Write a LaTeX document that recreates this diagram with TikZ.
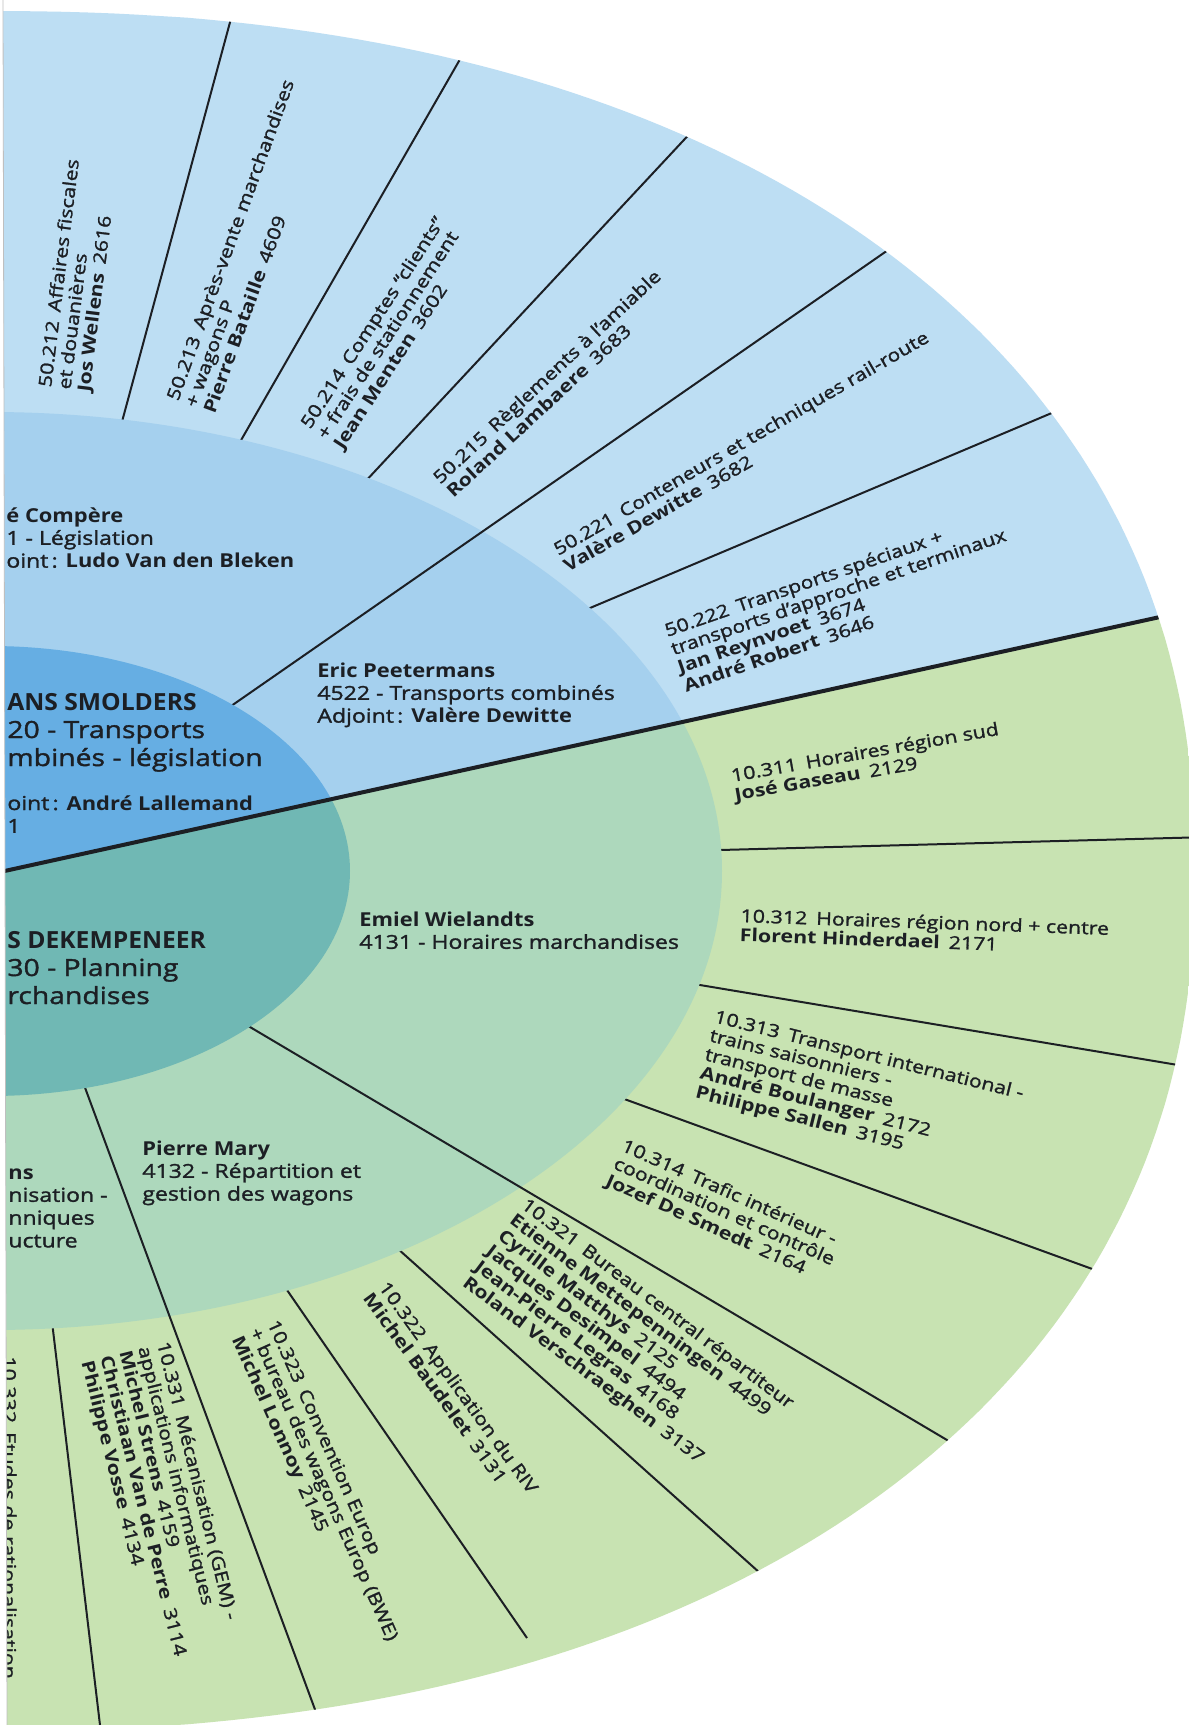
\documentclass[tikz,border=0pt]{standalone}
\usepackage{fontspec}
\setmainfont{Open Sans}[UprightFeatures={FakeStretch=1.2, FakeBold=1.5}, BoldFeatures={FakeStretch=1.2}]
\usetikzlibrary{calc}
\definecolor{oblue}{HTML}{BDDEF3}
\definecolor{mblue}{HTML}{A5D0EE}
\definecolor{iblue}{HTML}{66AEE3}
\definecolor{ogreen}{HTML}{C8E3B2}
\definecolor{mgreen}{HTML}{ADD8BC}
\definecolor{igreen}{HTML}{70B8B4}
\definecolor{ink}{HTML}{1C1F24}
\newcommand{\txtstack}[1]{\begin{tabular}[t]{@{}l@{}}#1\end{tabular}}
\newcommand{\hd}[2][0.95]{\scalebox{#1}[1]{\textbf{#2}}}

\begin{document}
\begin{tikzpicture}[x=0.5pt, y=-0.5pt,
  spoke/.style={draw=ink, line width=1pt},
  divider/.style={draw=ink, line width=2pt},
  outtxt/.style={font=\fontsize{8.9}{9.75}\selectfont, text=ink, inner sep=0pt, anchor=base west},
  midtxt/.style={font=\fontsize{9.6}{11.4}\selectfont, text=ink, inner sep=0pt, anchor=base west},
  bigtxt/.style={font=\fontsize{11.8}{14}\selectfont, text=ink, inner sep=0pt, anchor=base west}]
 \useasboundingbox (0,0) rectangle (1189,1725);
 \clip (0,0) rectangle (1189,1725);
 \fill[white] (0,0) rectangle (1189,1725);
 \def\rimpath{plot[domain=-89.5:89.5, samples=180, variable=\t]
   ({-10+1205*(cos(\t))^0.9}, {871+860*sin(\t)*(abs(sin(\t)))^(-0.1)}) -- (-30,1731) -- (-30,11) -- cycle}
 \coordinate (dl) at (-30,878.6);
 \coordinate (dr) at (1230,601.6);
 \begin{scope}
  \clip \rimpath;
  \fill[oblue] (-30,-30) -- (1230,-30) -- (dr) -- (dl) -- cycle;
  \fill[ogreen] (dl) -- (dr) -- (1230,1760) -- (-30,1760) -- cycle;
  % spokes of the outer ring
  \foreach \xa/\ya/\xb/\yb in {123/418/229/26, 240/442/455/68, 363/484/682/142, 590/608/1047/415,
    720/850/1172/838, 700/985/1160/1062, 627/1100/1040/1250, 397/1248/760/1573,
    287/1290/487/1580, 53/1330/100/1725}
   \draw[spoke] ($(\xa,\ya)!-0.1!(\xb,\yb)$) -- ($(\xa,\ya)!1.2!(\xb,\yb)$);
  \begin{scope}
   \clip (-10,871) ellipse [x radius=732, y radius=459];
   \fill[mblue] (-30,-30) -- (1230,-30) -- (dr) -- (dl) -- cycle;
   \fill[mgreen] (dl) -- (dr) -- (1230,1760) -- (-30,1760) -- cycle;
  \end{scope}
  % spokes that start on the inner ring
  \foreach \xa/\ya/\xb/\yb in {234/704/878/257, 250/1027/947/1440, 87/1093/320/1723}
   \draw[spoke] ($(\xa,\ya)!-0.05!(\xb,\yb)$) -- ($(\xa,\ya)!1.2!(\xb,\yb)$);
  \begin{scope}
   \clip (-10,871) ellipse [x radius=360, y radius=225];
   \fill[iblue] (-30,-30) -- (1230,-30) -- (dr) -- (dl) -- cycle;
   \fill[igreen] (dl) -- (dr) -- (1230,1760) -- (-30,1760) -- cycle;
  \end{scope}
  \draw[divider] (dl) -- (dr);
 \end{scope}

 % outer ring, upper half
 \node[outtxt, rotate=83] (c212) at (51,388) {\txtstack{50.212\enspace Affaires fiscales\\et douanières\\\textbf{Jos Wellens}\enspace 2616}};
 \node[outtxt, rotate=70] (c213) at (178,402) {\txtstack{50.213\enspace Après-vente marchandises\\+ wagons P\\\textbf{Pierre Bataille}\enspace 4609}};
 \node[outtxt, rotate=57] (c214) at (310,430) {\txtstack{50.214\enspace Comptes ``clients''\\+ frais de stationnement\\\textbf{Jean Menten}\enspace 3602}};
 \node[outtxt, rotate=43] (c215) at (440,485) {\txtstack{50.215\enspace Règlements à l'amiable\\\textbf{Roland Lambaere}\enspace 3683}};
 \node[outtxt, rotate=30] (c221) at (558,556) {\txtstack{50.221\enspace Conteneurs et techniques rail-route\\\textbf{Valère Dewitte}\enspace 3682}};
 \node[outtxt, rotate=19] (c222) at (667,637) {\txtstack{50.222\enspace Transports spéciaux +\\transports d'approche et terminaux\\\textbf{Jan Reynvoet}\enspace 3674\\\textbf{André Robert}\enspace 3646}};
 % outer ring, lower half
 \node[outtxt, rotate=10] (c311) at (732,782) {\txtstack{10.311\enspace Horaires région sud\\\textbf{José Gaseau}\enspace 2129}};
 \node[outtxt, rotate=-2] (c312) at (740,922) {\txtstack{10.312\enspace Horaires région nord + centre\\\textbf{Florent Hinderdael}\enspace 2171}};
 \node[outtxt, rotate=-14] (c313) at (713,1022) {\txtstack{10.313\enspace Transport international -\\trains saisonniers -\\transport de masse\\\textbf{André Boulanger}\enspace 2172\\\textbf{Philippe Sallen}\enspace 3195}};
 \node[outtxt, rotate=-24] (c314) at (620,1150) {\txtstack{10.314\enspace Trafic intérieur -\\coordination et contrôle\\\textbf{Jozef De Smedt}\enspace 2164}};
 \node[outtxt, rotate=-37] (c321) at (520,1207) {\txtstack{10.321\enspace Bureau central répartiteur\\\textbf{Etienne Mettepenningen}\enspace 4499\\\textbf{Cyrille Matthys}\enspace 2125\\\textbf{Jacques Desimpel}\enspace 4494\\\textbf{Jean-Pierre Legras}\enspace 4168\\\textbf{Roland Verschraeghen}\enspace 3137}};
 \node[outtxt, rotate=-54] (c322) at (378,1287) {\txtstack{10.322\enspace Application du RIV\\\textbf{Michel Baudelet}\enspace 3131}};
 \node[outtxt, rotate=-66] (c323) at (267,1323) {\txtstack{10.323\enspace Convention Europ\\+ bureau des wagons Europ (BWE)\\\textbf{Michel Lonnoy}\enspace 2145}};
 \node[outtxt, rotate=-76] (c331) at (157,1343) {\txtstack{10.331\enspace Mécanisation (GEM) -\\applications informatiques\\\textbf{Michel Strens}\enspace 4159\\\textbf{Christiaan Van de Perre}\enspace 3114\\\textbf{Philippe Vosse}\enspace 4134}};
 \node[outtxt, rotate=-90] (c332) at (3,1356) {10.332\enspace Etudes de rationalisation};

 % middle ring
 \node[midtxt] (compere) at (6,522) {\txtstack{\hd{é Compère}\\1 - Législation\\oint\,: \hd{Ludo Van den Bleken}}};
 \node[midtxt] (peetermans) at (317,677) {\txtstack{\hd{Eric Peetermans}\\4522 - Transports combinés\\Adjoint\,: \hd{Valère Dewitte}}};
 \node[midtxt] (wielandts) at (359,926) {\txtstack{\hd{Emiel Wielandts}\\4131 - Horaires marchandises}};
 \node[midtxt] (mary) at (142,1155) {\txtstack{\hd{Pierre Mary}\\4132 - Répartition et\\gestion des wagons}};
 \node[midtxt] (infra) at (8,1179) {\txtstack{\hd{ns}\\nisation -\\nniques\\ucture}};

 % inner ring
 \node[bigtxt] (smolders) at (7,710) {\txtstack{\hd[0.87]{ANS SMOLDERS}\\20 - Transports\\mbinés - législation}};
 \node[midtxt] (smoldersadj) at (7,810) {\txtstack{oint\,: \hd{André Lallemand}\\1}};
 \node[bigtxt] (dekempeneer) at (7,948) {\txtstack{\hd[0.87]{S DEKEMPENEER}\\30 - Planning\\rchandises}};

 \fill[white] (0,0) -- (3,0) -- (7,1725) -- (0,1725) -- cycle;
 \draw[black!25, line width=0.4pt] (3,0) -- (7,1725);
\end{tikzpicture}
\end{document}
